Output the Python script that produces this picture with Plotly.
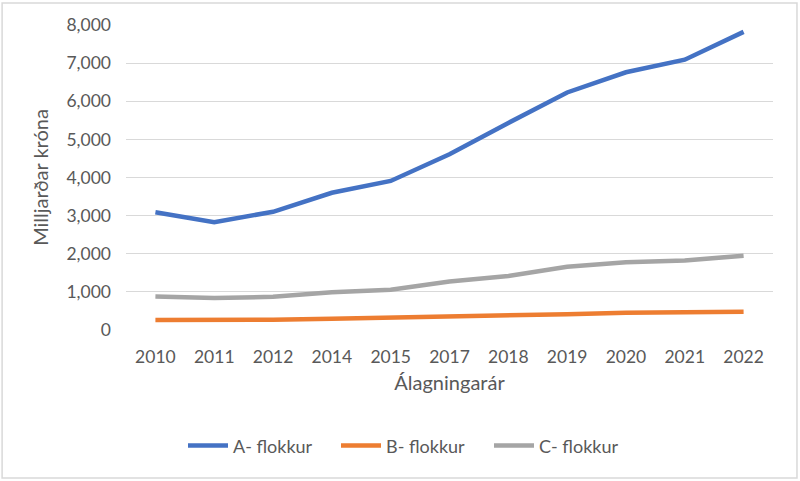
import plotly.graph_objects as go

years = ["2010", "2011", "2012", "2014", "2015", "2017", "2018", "2019", "2020", "2021", "2022"]
a_flokkur = [3090, 2830, 3100, 3600, 3910, 4610, 5430, 6230, 6760, 7090, 7820]
b_flokkur = [265, 255, 270, 295, 320, 355, 365, 415, 450, 460, 480]
c_flokkur = [880, 840, 870, 990, 1055, 1270, 1415, 1660, 1775, 1825, 1950]
y_ticks = [0, 1000, 2000, 3000, 4000, 5000, 6000, 7000, 8000]

FONT = "Lato, Open Sans, sans-serif"
GRAY = "#595959"

fig = go.Figure()
for name, vals, col in [("A- flokkur", a_flokkur, "#4472C4"),
                        ("B- flokkur", b_flokkur, "#ED7D31"),
                        ("C- flokkur", c_flokkur, "#A5A5A5")]:
    fig.add_trace(go.Scatter(x=years, y=vals, mode="lines", name=name,
                             line=dict(color=col, width=4.5)))

fig.update_layout(
    width=800, height=481,
    margin=dict(l=126, r=27, t=25, b=151),
    paper_bgcolor="white", plot_bgcolor="white",
    font=dict(family=FONT, color=GRAY, size=17),
    showlegend=True,
    legend=dict(orientation="h", xref="container", x=183/800, xanchor="left",
                yref="container", y=0.073, yanchor="middle",
                font=dict(size=18, color=GRAY, family=FONT), itemwidth=40,
                entrywidth=98, entrywidthmode="pixels",
                tracegroupgap=0),
    shapes=[dict(type="rect", xref="paper", yref="paper", x0=-124/647.5, x1=1 + 24/647.5,
                 y0=-148/305, y1=1 + 22/305, line=dict(color="#d9d9d9", width=1.5))],
)
fig.update_xaxes(type="category", range=[-0.5, 10.5], showgrid=False, showline=False,
                 ticks="", ticklabelstandoff=14, tickfont=dict(size=17.5, color=GRAY),
                 title=dict(text="Álagningarár", font=dict(size=20, color=GRAY), standoff=10),
                 fixedrange=True)
fig.update_yaxes(range=[0, 8000], tickvals=y_ticks, tickformat=",d",
                 gridcolor="#d9d9d9", gridwidth=1.3, zeroline=False, showline=False,
                 ticks="", ticklabelstandoff=14, tickfont=dict(size=17.5, color=GRAY),
                 title=dict(text="Milljarðar króna", font=dict(size=20, color=GRAY), standoff=12),
                 fixedrange=True)

fig.write_html("out.html", config={"displayModeBar": False},
               post_script="document.body.style.margin='0';")
